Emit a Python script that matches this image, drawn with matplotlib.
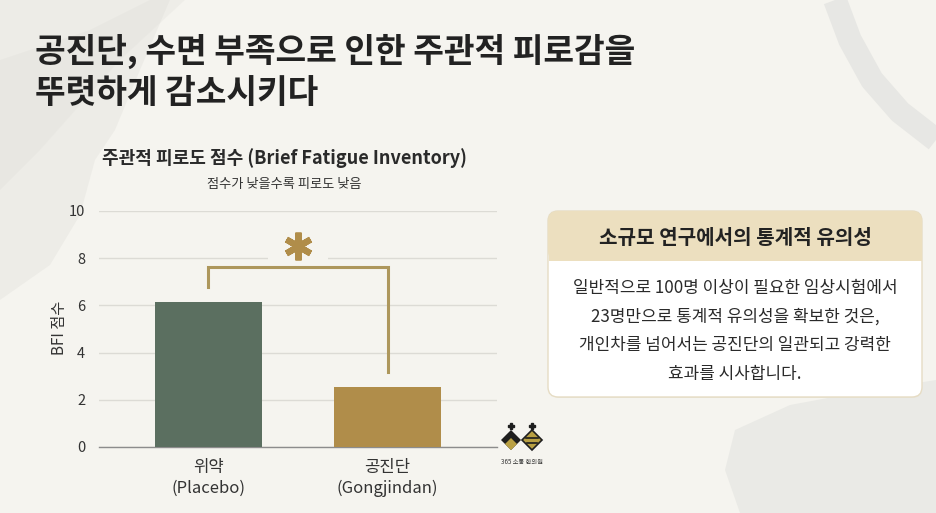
import matplotlib.pyplot as plt
from matplotlib.patches import FancyBboxPatch, Polygon, Rectangle

plt.rcParams['font.family'] = ['Noto Sans CJK KR', 'DejaVu Sans']

# 데이터
groups = ['위약\n(Placebo)', '공진단\n(Gongjindan)']
bfi_scores = [6.15, 2.55]
bar_colors = ['#5b6f60', '#b08d4a']
y_ticks = [0, 2, 4, 6, 8, 10]

title_lines = ['공진단, 수면 부족으로 인한 주관적 피로감을', '뚜렷하게 감소시키다']
chart_title = '주관적 피로도 점수 (Brief Fatigue Inventory)'
chart_subtitle = '점수가 낮을수록 피로도 낮음'
box_title = '소규모 연구에서의 통계적 유의성'
box_lines = ['일반적으로 100명 이상이 필요한 임상시험에서',
             '23명만으로 통계적 유의성을 확보한 것은,',
             '개인차를 넘어서는 공진단의 일관되고 강력한',
             '효과를 시사합니다.']

bg = '#f5f4ef'
gold_line = '#ad975c'

fig = plt.figure(figsize=(9.36, 5.13), dpi=100, facecolor=bg)

# 배경 장식 + 박스 (픽셀 좌표용 축)
deco = fig.add_axes([0, 0, 1, 1], zorder=0)
deco.set_xlim(0, 936)
deco.set_ylim(513, 0)
deco.axis('off')
# 수묵 번짐 느낌
deco.add_patch(Polygon([(0, 0), (170, 0), (140, 70), (115, 130), (95, 160),
                        (80, 215), (50, 265), (0, 300)],
                       closed=True, fc='#e6e5e0', ec='none', alpha=0.5))
deco.add_patch(Polygon([(0, 60), (90, 30), (150, 0), (185, 0), (120, 60),
                        (40, 150), (0, 190)],
                       closed=True, fc='#dddcd7', ec='none', alpha=0.25))
deco.plot([835, 850, 872, 900, 936], [0, 40, 80, 112, 140],
          color='#dcdddb', lw=17, alpha=0.55, solid_capstyle='butt')
deco.add_patch(Polygon([(735, 430), (790, 405), (860, 392), (936, 380), (936, 513),
                        (740, 513), (725, 470)],
                       closed=True, fc='#e3e4e0', ec='none', alpha=0.6))

# 오른쪽 설명 박스
deco.add_patch(FancyBboxPatch((550, 214), 372, 184, boxstyle='round,pad=0,rounding_size=10',
                              fc='#e9e6dd', ec='none', zorder=1))
deco.add_patch(FancyBboxPatch((548, 211), 374, 186, boxstyle='round,pad=0,rounding_size=10',
                              fc='white', ec='#e6dcc4', lw=1.0, zorder=2))
deco.add_patch(FancyBboxPatch((548, 211), 374, 50, boxstyle='round,pad=0,rounding_size=10',
                              fc='#ecdfbf', ec='none', zorder=3))
deco.add_patch(Rectangle((548.5, 245), 373, 16, fc='#ecdfbf', ec='none', zorder=3))
deco.text(735, 238, box_title, ha='center', va='center', fontsize=14.5,
          fontweight='bold', color='#222222', zorder=4)
for i, line in enumerate(box_lines):
    deco.text(735, 288 + i * 28.5, line, ha='center', va='center', fontsize=12.2,
              color='#2a2a2a', zorder=4)

# 로고
deco.add_patch(Polygon([(501, 440), (511, 430), (521, 440), (511, 450)],
                       closed=True, fc='#1e1e1e', ec='none'))
deco.add_patch(Polygon([(505, 444), (511, 438), (517, 444), (511, 450)],
                       closed=True, fc='#b9a043', ec='none'))
deco.add_patch(Polygon([(522, 440), (532, 430), (542, 440), (532, 450)],
                       closed=True, fc='#b9a043', ec='#1e1e1e', lw=1.2))
deco.plot([526, 538], [438, 438], color='#1e1e1e', lw=1.2)
deco.plot([527, 537], [443, 443], color='#1e1e1e', lw=1.2)
deco.plot([511, 532], [426, 426], ls='none', marker='P', ms=4, color='#1e1e1e')
deco.text(522, 462, '365 소통 한의원', ha='center', va='center', fontsize=4.5, color='#333333')

# 제목
fig.text(0.037, 0.900, title_lines[0], fontsize=24, fontweight='bold', color='#222222',
         ha='left', va='center')
fig.text(0.037, 0.818, title_lines[1], fontsize=24, fontweight='bold', color='#222222',
         ha='left', va='center')
fig.text(0.3034, 0.692, chart_title, fontsize=13, fontweight='bold', color='#2a2a2a',
         ha='center', va='center')
fig.text(0.3034, 0.641, chart_subtitle, fontsize=9.5, color='#333333',
         ha='center', va='center')

# 막대 그래프
ax = fig.add_axes([0.1058, 0.1287, 0.4252, 0.46], zorder=2)
ax.patch.set_alpha(0)
x = range(len(groups))
ax.bar(x, bfi_scores, width=0.6, color=bar_colors, zorder=3)
ax.set_xlim(-0.61, 1.61)
ax.set_ylim(0, 10)
ax.set_yticks(y_ticks)
ax.set_xticks(list(x))
ax.set_xticklabels(groups, fontsize=12, color='#333333', linespacing=1.25)
ax.tick_params(axis='x', length=0, pad=9)
ax.tick_params(axis='y', length=0, pad=10, labelsize=10.5, labelcolor='#333333')
ax.yaxis.grid(True, color='#dcdbd5', lw=1.0)
for side in ['top', 'right', 'left']:
    ax.spines[side].set_visible(False)
ax.spines['bottom'].set_color('#8c8c8c')
ax.spines['bottom'].set_linewidth(1.0)
fig.text(0.064, 0.3606, 'BFI 점수', rotation=90, fontsize=11, color='#333333',
         ha='center', va='center')

# 유의성 표시
y_top = 7.62
ax.plot([0, 0, 1, 1], [6.78, y_top, y_top, 3.18], color=gold_line, lw=2.2,
        zorder=4, solid_joinstyle='miter')
ax.add_patch(Rectangle((0.33, 7.8), 0.34, 0.4, fc=bg, ec='none', zorder=2))
ax.plot([0.5], [8.5], ls='none', marker=(6, 2, 0), ms=20, mew=4.5,
        color='#b08d4a', zorder=5)

fig.savefig('out.png', dpi=100, facecolor=bg)
